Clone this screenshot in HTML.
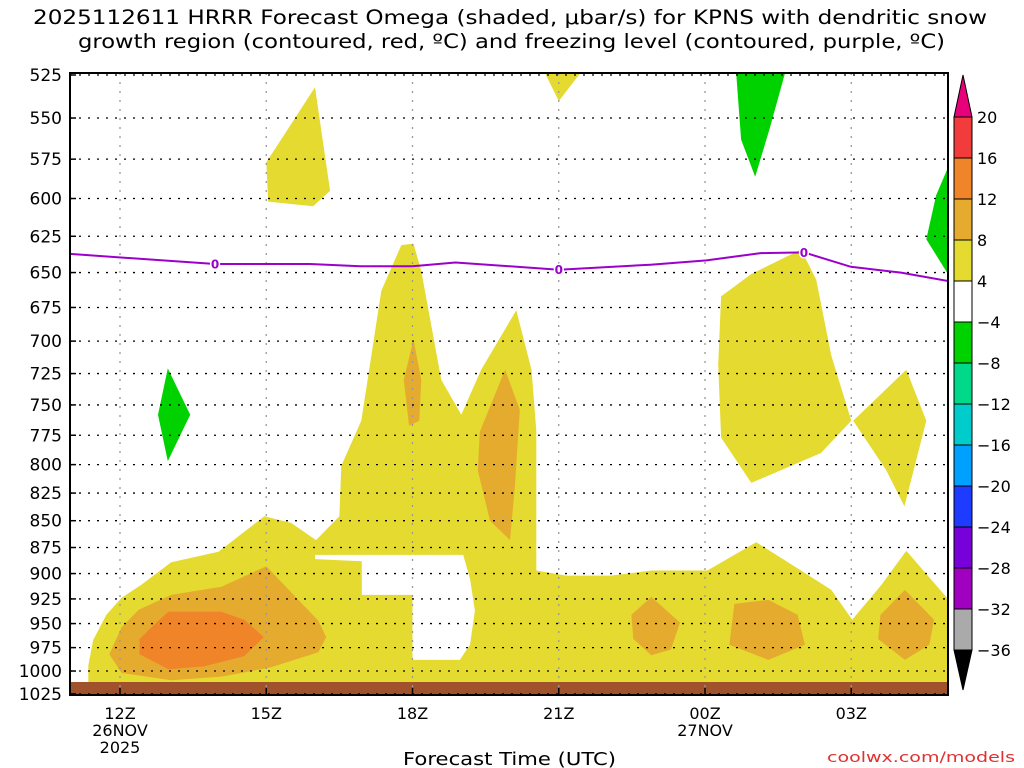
<!DOCTYPE html>
<html><head><meta charset="utf-8"><style>
body{margin:0;background:#fff;}
svg{display:block;font-family:"DejaVu Sans","Liberation Sans",sans-serif;}
</style></head><body>
<svg id="c" width="1024" height="768"></svg>
<script>
const pressureTicks=[525,550,575,600,625,650,675,700,725,750,775,800,825,850,875,900,925,950,975,1000,1025];
const timeTicks=[12,15,18,21,24,27];
const timeLabels=["12Z","15Z","18Z","21Z","00Z","03Z"];
const dateLabels=[["26NOV","2025"],[],[],[],["27NOV"],[]];
const cbLevels=[20,16,12,8,4,-4,-8,-12,-16,-20,-24,-28,-32,-36];
const cbColors=["#f23c3c","#ef8429","#e5ab2e","#e5da30","#ffffff","#00d200","#00d88a","#00cccc","#00a0ff","#1e3cff","#7800d8","#a000c0","#aaaaaa"];
const frzHours=[10.97,13.95,15.9,16.93,18,18.88,21,22.88,24.03,25.14,26.03,26.99,28.02,29];
const frzPres=[637,644,644,645.6,645.6,643,648,644.5,641.5,636.5,636,646,650,656];
const frzLabelIdx=[1,6,10];
const yellowMain=[[11.35,1013],[11.35,994],[11.45,967],[11.72,941],[12.03,924],[12.44,911],[13.05,889],[14.02,879],[14.96,846],[15.51,852],[16.02,868],[16.5,846],[16.54,801],[16.95,763],[17.36,663],[17.77,631],[18.02,630],[18.18,649],[18.59,730],[19,758],[19.41,722],[20.13,677],[20.44,722],[20.54,771],[20.54,897],[21.15,902],[22.07,902],[22.9,897],[24.05,897],[25.05,870],[25.97,897],[26.59,916],[27.02,946],[27.62,911],[28.13,878],[29,926],[29,1013]];
const yellow15=[[15,577],[16.0,532],[16.31,595],[15.96,605],[15.04,602]];
const yellow21=[[20.72,524],[21.44,524],[21.0,540]];
const yellowA=[[24.33,667],[24.95,651],[25.97,634],[26.28,655],[26.59,711],[27,763],[26.38,790],[25.77,801],[24.95,816],[24.33,777],[24.27,718]];
const yellowB=[[27.04,763],[28.13,722],[28.54,763],[28.09,837],[27.72,805]];
const whiteHole=[[16.0,882],[19.04,882],[19.18,905],[19.28,937],[19.18,972],[18.97,988],[18,988],[18,921],[16.96,921],[16.96,888],[16.0,886]];
const orangeBig=[[11.78,982],[12.03,954],[12.38,936],[13.05,921],[14.08,913],[15,893],[15.66,926],[16.07,947],[16.23,964],[16.07,980],[15.1,996],[14.08,1006],[13.05,1010],[12.03,1002]];
const darkOrange=[[12.4,966],[12.64,954],[12.99,938],[14.08,938],[14.55,946],[14.95,964],[14.55,984],[13.72,995],[12.99,998],[12.4,982]];
const orange18=[[18.02,699],[18.18,730],[18.14,763],[17.93,767],[17.82,730]];
const orange20=[[19.9,722],[20.2,754],[20.1,819],[20,868],[19.59,850],[19.34,805],[19.38,772]];
const orangeB1=[[22.9,923],[23.49,949],[23.3,977],[22.9,983],[22.53,966],[22.49,941]];
const orangeB2=[[24.6,930],[25.3,926],[25.9,941],[26.05,972],[25.3,988],[24.5,972]];
const orangeB3=[[28.1,916],[28.7,946],[28.6,972],[28.1,988],[27.55,966],[27.6,941]];
const green13=[[12.98,721],[13.44,758],[12.98,797],[12.78,758]];
const greenTop=[[24.64,524],[25.64,524],[25.33,556],[25.03,586],[24.74,563]];
const greenRight=[[29,579],[29,652],[28.54,627],[28.74,598]];

const L=70,R=948,T=73,B=695;
const X=h=>120+(h-12)*48.75;
const Y=p=>75+Math.log(p/525)*925;
const svg=document.getElementById('c');
const NS="http://www.w3.org/2000/svg";
function mk(tag,attrs,parent){const e=document.createElementNS(NS,tag);for(const k in attrs)e.setAttribute(k,attrs[k]);(parent||svg).appendChild(e);return e;}

const defs=mk('defs',{});
const cp=mk('clipPath',{id:'clip'},defs);
mk('rect',{x:L,y:T,width:R-L,height:B-T},cp);
const g=mk('g',{'clip-path':'url(#clip)'});



function poly(pts,fill,name){
  const e=mk('polygon',{points:pts.map(p=>X(p[0]).toFixed(1)+','+Y(p[1]).toFixed(1)).join(' '),fill:fill},g);
  
  
}
poly(yellowMain,'#e5da30','omega-4-8-main');
poly(whiteHole,'#ffffff','omega-neutral-hole');
poly(yellow15,'#e5da30','omega-4-8-15z');
poly(yellow21,'#e5da30','omega-4-8-21z');
poly(yellowA,'#e5da30','omega-4-8-01z');
poly(yellowB,'#e5da30','omega-4-8-04z');
poly(orangeBig,'#e5ab2e','omega-8-12-13z');
poly(darkOrange,'#ef8429','omega-12-16-13z');
poly(orange18,'#e5ab2e','omega-8-12-18z');
poly(orange20,'#e5ab2e','omega-8-12-20z');
poly(orangeB1,'#e5ab2e','omega-8-12-23z');
poly(orangeB2,'#e5ab2e','omega-8-12-01z');
poly(orangeB3,'#e5ab2e','omega-8-12-04z');
poly(green13,'#00d200','omega-neg-13z');
poly(greenTop,'#00d200','omega-neg-01z');
poly(greenRight,'#00d200','omega-neg-05z');

let e=mk('rect',{x:L,y:682,width:R-L,height:B-682,fill:'#a0522d'},g);



pressureTicks.forEach(p=>{
  const l=mk('line',{x1:L,x2:R,y1:Y(p),y2:Y(p),stroke:'#000','stroke-width':1.3,'stroke-dasharray':'2 7'},g);
  
  
});
timeTicks.forEach(h=>{
  const l=mk('line',{x1:X(h),x2:X(h),y1:T,y2:B,stroke:'#999','stroke-width':1.3,'stroke-dasharray':'2 7'},g);
  
  
});

const fl=mk('polyline',{points:frzHours.map((h,i)=>X(h).toFixed(1)+','+Y(frzPres[i]).toFixed(1)).join(' '),fill:'none',stroke:'#9b00cc','stroke-width':2},g);


frzLabelIdx.forEach(i=>{
  const t=mk('text',{x:X(frzHours[i]),y:Y(frzPres[i])+4.5,'text-anchor':'middle','font-size':12,'font-weight':'bold',fill:'#9b00cc',stroke:'#fff','stroke-width':3,'paint-order':'stroke'},g);
  t.textContent='0';
  
  
});

e=mk('rect',{x:L,y:T,width:R-L,height:B-T,fill:'none',stroke:'#000','stroke-width':2});



pressureTicks.forEach(p=>{
  const t=mk('text',{x:62,y:Y(p)+6,'text-anchor':'end','font-size':17,fill:'#000'});
  t.textContent=p;
  
  
  mk('line',{x1:L,x2:L+6,y1:Y(p),y2:Y(p),stroke:'#000','stroke-width':1.5});
});
timeTicks.forEach((h,i)=>{
  mk('line',{x1:X(h),x2:X(h),y1:B,y2:B-7,stroke:'#000','stroke-width':1.5});
  const t=mk('text',{x:X(h),y:719,'text-anchor':'middle','font-size':16,fill:'#000'});
  t.textContent=timeLabels[i];
  
  
  dateLabels[i].forEach((s,j)=>{
    const d=mk('text',{x:X(h),y:736+j*17,'text-anchor':'middle','font-size':16,fill:'#000'});
    d.textContent=s;
    
    
  });
});

const cbX=954,cbW=18,cbTop=117,step=(650-117)/13;
e=mk('polygon',{points:`${cbX},${cbTop} ${cbX+cbW},${cbTop} ${cbX+cbW/2},75`,fill:'#e8007a',stroke:'#000','stroke-width':1});


cbColors.forEach((c,i)=>{
  const r=mk('rect',{x:cbX,y:cbTop+i*step,width:cbW,height:step,fill:c,stroke:'#000','stroke-width':1});
  
  
});
e=mk('polygon',{points:`${cbX},650 ${cbX+cbW},650 ${cbX+cbW/2},690`,fill:'#000',stroke:'#000','stroke-width':1});


cbLevels.forEach((v,i)=>{
  const t=mk('text',{x:977,y:cbTop+i*step+6,'font-size':16,fill:'#000'});
  t.textContent=v<0?'\u2212'+(-v):String(v);
  
  
});

[["2025112611 HRRR Forecast Omega (shaded, \u03bcbar/s) for KPNS with dendritic snow",24,33,954],["growth region (contoured, red, \u00baC) and freezing level (contoured, purple, \u00baC)",48,78,867]].forEach(([s,y,x0,w])=>{
  const t=mk('text',{x:x0,y:y,'font-size':19.5,fill:'#000',textLength:w,lengthAdjust:'spacingAndGlyphs'});
  t.textContent=s;
  
  
});
e=mk('text',{x:403,y:765,'font-size':18,fill:'#000',textLength:213,lengthAdjust:'spacingAndGlyphs'});
e.textContent='Forecast Time (UTC)';


e=mk('text',{x:827,y:762,'font-size':14,fill:'#e03030',textLength:188,lengthAdjust:'spacingAndGlyphs'});
e.textContent='coolwx.com/models';


</script>
</body></html>
